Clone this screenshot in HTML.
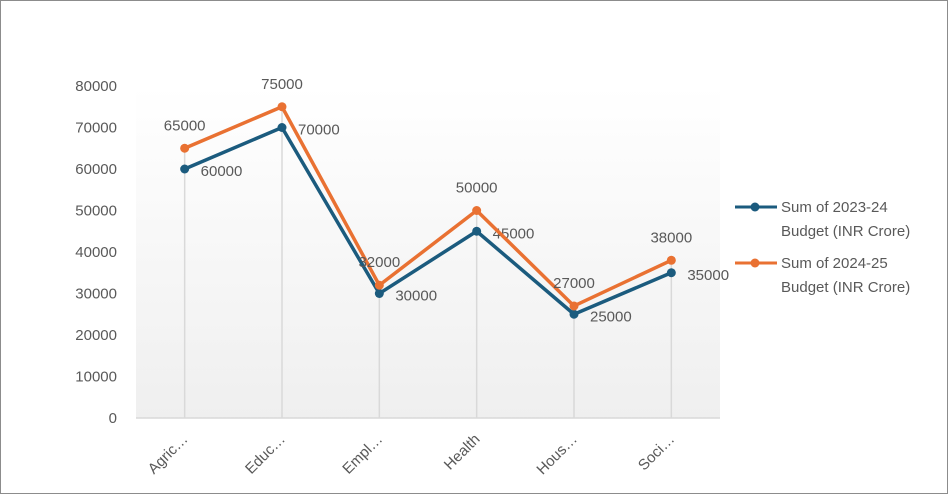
<!DOCTYPE html>
<html><head><meta charset="utf-8"><style>
body{margin:0;background:#fff}
svg{display:block;font-family:"Liberation Sans",sans-serif}
</style></head><body>
<svg id="c" width="948" height="494">
<defs><linearGradient id="bg" x1="0" y1="0" x2="0" y2="1"><stop offset="0" stop-color="#ffffff"/><stop offset="1" stop-color="#efefef"/></linearGradient></defs>
<rect x="0.5" y="0.5" width="947" height="493" fill="#fff" stroke="#8c8c8c"/>
<rect x="136" y="86" width="584" height="332" fill="url(#bg)"/>
<g id="g"></g>
<g font-size="15" fill="#595959">
<g>
<line x1="735" y1="207" x2="777" y2="207" stroke="#1b5b7e" stroke-width="3"/><circle cx="755" cy="207" r="4.5" fill="#1b5b7e"/>
<text x="781" y="212">Sum of 2023-24</text><text x="781" y="236">Budget (INR Crore)</text></g>
<g>
<line x1="735" y1="263" x2="777" y2="263" stroke="#e97132" stroke-width="3"/><circle cx="755" cy="263" r="4.5" fill="#e97132"/>
<text x="781" y="268">Sum of 2024-25</text><text x="781" y="292">Budget (INR Crore)</text></g>
</g>
</svg>
<script>
const categories=["Agric…","Educ…","Empl…","Health","Hous…","Soci…"];
const budget2324=[60000,70000,30000,45000,25000,35000];
const budget2425=[65000,75000,32000,50000,27000,38000];
const yTicks=[0,10000,20000,30000,40000,50000,60000,70000,80000];
const NS="http://www.w3.org/2000/svg";
const g=document.getElementById('g');
const x0=136,x1=720,yb=418,yt=86,ymax=80000;
const xs=i=>x0+(x1-x0)/categories.length*(i+0.5);
const ys=v=>yb-(yb-yt)*v/ymax;
function mk(t,a,p){const e=document.createElementNS(NS,t);for(const k in a)e.setAttribute(k,a[k]);(p||g).appendChild(e);return e;}
yTicks.forEach(v=>{const t=mk('text',{x:117,y:ys(v)+5,'text-anchor':'end','font-size':15,fill:'#595959'});t.textContent=v;

});
categories.forEach((c,i)=>{const m=Math.max(budget2324[i],budget2425[i]);
const l=mk('line',{x1:xs(i),x2:xs(i),y1:ys(m),y2:yb,stroke:'#d9d9d9','stroke-width':1.5});


const t=mk('text',{transform:`translate(${xs(i)+4},${yb+22}) rotate(-45)`,'text-anchor':'end','font-size':15,fill:'#595959'});t.textContent=c;

});
const ax=mk('line',{x1:x0,x2:x1,y1:yb,y2:yb,stroke:'#d9d9d9','stroke-width':1.5});


function series(vals,col,name,lab){
const p=mk('polyline',{points:vals.map((v,i)=>xs(i)+','+ys(v)).join(' '),fill:'none',stroke:col,'stroke-width':3.5,'stroke-linejoin':'round'});


vals.forEach((v,i)=>{const c=mk('circle',{cx:xs(i),cy:ys(v),r:4.5,fill:col});


const t=mk('text',lab(xs(i),ys(v)));t.setAttribute('font-size',15);t.setAttribute('fill','#595959');t.textContent=v;

});}
series(budget2324,'#1b5b7e','series-2023-24',(x,y)=>({x:x+16,y:y+7}));
series(budget2425,'#e97132','series-2024-25',(x,y)=>({x:x,y:y-18,'text-anchor':'middle'}));
</script>
</body></html>
